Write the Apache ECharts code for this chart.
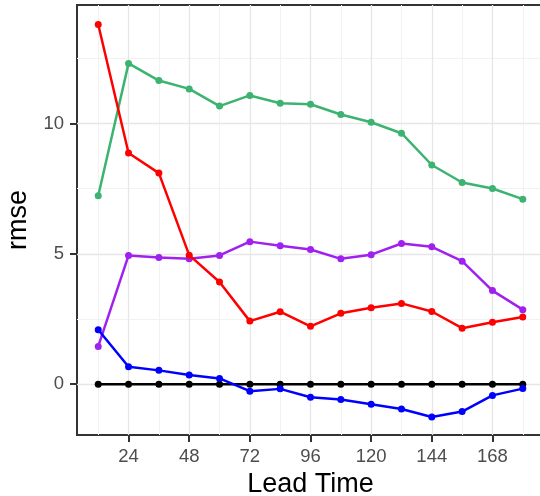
<!DOCTYPE html>
<html><head><meta charset="utf-8">
<script src="https://cdn.jsdelivr.net/npm/echarts@6/dist/echarts.min.js"></script>
<style>html,body{margin:0;padding:0;background:#fff}#c{width:540px;height:496px}</style>
</head><body><div id="c"></div>
<script>
const leadTimes = [12,24,36,48,60,72,84,96,108,120,132,144,156,168,180];
const xTicks = [24,48,72,96,120,144,168];
const yTicks = [0,5,10];
const xMinorGrid = [12,36,60,84,108,132,156,180];
const yMinorGrid = [2.5,7.5,12.5];
const greenVals = [7.23,12.31,11.65,11.33,10.67,11.08,10.78,10.74,10.35,10.05,9.63,8.41,7.74,7.51,7.10];
const redVals = [13.8,8.87,8.1,4.95,3.92,2.42,2.78,2.22,2.72,2.93,3.10,2.79,2.15,2.38,2.58];
const purpleVals = [1.45,4.94,4.86,4.81,4.94,5.47,5.31,5.17,4.81,4.97,5.40,5.27,4.72,3.59,2.86];
const blueVals = [2.09,0.67,0.53,0.35,0.22,-0.27,-0.18,-0.5,-0.59,-0.77,-0.95,-1.26,-1.05,-0.43,-0.17];
const blackVals = [0,0,0,0,0,0,0,0,0,0,0,0,0,0,0];

const font = 'Liberation Sans, Arial, sans-serif';
const chart = echarts.init(document.getElementById('c'), null, {renderer:'canvas'});
function mk(name, vals, color, z){
  const data = leadTimes.map((x,i)=>[x,vals[i]]);
  return [
    {name, type:'line', data, showSymbol:false, symbol:'none', lineStyle:{color, width:2.5},
      itemStyle:{color}, z, animation:false},
    {name, type:'scatter', data, symbol:'circle', symbolSize:7,
      itemStyle:{color, opacity:1}, z, animation:false}
  ];
}
const gridSeries = {
  type:'line', data:[], silent:true, animation:false, z:1,
  markLine:{silent:true, z:1, symbol:['none','none'], label:{show:false}, animation:false,
    data:[
      ...xMinorGrid.map(v=>({xAxis:v, lineStyle:{color:'#f2f2f2', width:1, type:'solid'}})),
      ...yMinorGrid.map(v=>({yAxis:v, lineStyle:{color:'#f2f2f2', width:1, type:'solid'}})),
      ...xTicks.map(v=>({xAxis:v, lineStyle:{color:'#e6e6e6', width:1.3, type:'solid'}})),
      ...yTicks.map(v=>({yAxis:v, lineStyle:{color:'#e6e6e6', width:1.3, type:'solid'}}))
    ]}
};
chart.setOption({
  backgroundColor:'#fff',
  animation:false,
  grid:{left:77, top:5, width:467, bottom:61, outerBoundsMode:'none', containLabel:false,
    show:true, borderColor:'#333', borderWidth:2, backgroundColor:'transparent'},
  xAxis:{type:'value', min:3.6, max:188.4,
    name:'Lead Time', nameLocation:'middle', nameGap:36,
    nameTextStyle:{fontFamily:font, fontSize:27, color:'#000'},
    axisLine:{show:true, onZero:false, lineStyle:{color:'#333', width:2}},
    axisTick:{show:true, length:7, customValues:xTicks, lineStyle:{color:'#333', width:2}},
    axisLabel:{fontFamily:font, fontSize:18.5, color:'#4d4d4d', margin:12, customValues:xTicks},
    splitLine:{show:false}},
  yAxis:{type:'value', min:-1.95, max:14.55,
    name:'rmse', nameLocation:'middle', nameGap:41,
    nameTextStyle:{fontFamily:font, fontSize:27, color:'#000'},
    axisLine:{show:true, onZero:false, lineStyle:{color:'#333', width:2}},
    axisTick:{show:true, length:7, customValues:yTicks, lineStyle:{color:'#333', width:2}},
    axisLabel:{fontFamily:font, fontSize:18.5, color:'#4d4d4d', margin:13, customValues:yTicks},
    splitLine:{show:false}},
  series:[gridSeries,
    ...mk('black', blackVals, '#000000', 3),
    ...mk('green', greenVals, '#3CB371', 4),
    ...mk('purple', purpleVals, '#A020F0', 5),
    ...mk('red', redVals, '#FF0000', 6),
    ...mk('blue', blueVals, '#0000FF', 7)]
});
</script></body></html>
